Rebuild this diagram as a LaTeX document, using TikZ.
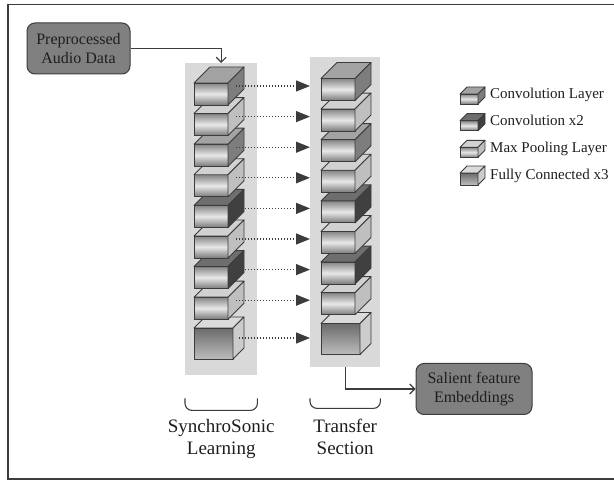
\documentclass[tikz,border=0pt]{standalone}
\usepackage{fontspec}
\setmainfont{Liberation Serif}
\usetikzlibrary{arrows.meta,positioning,calc}
\definecolor{panelgray}{HTML}{D9D9D9}
\definecolor{boxgray}{HTML}{808080}
\definecolor{edgegray}{HTML}{3C3C3C}
\definecolor{inkgray}{HTML}{1E1E1E}
\definecolor{frontdark}{HTML}{858585}
\definecolor{frontlight}{HTML}{E8E8E8}
\tikzset{
%Define standard arrow tip
    >={Straight Barb[length=5pt,width=10pt]},
%Define style for the grey panels
    panel/.style={
           rectangle,
           fill=panelgray,
           inner sep=0pt},
%Define style for the rounded boxes
    databox/.style={
           rectangle,
           rounded corners=8pt,
           draw=edgegray, line width=1pt,
           fill=boxgray,
           minimum height=51pt,
           align=center,
           text=inkgray,
           font=\fontsize{16}{19}\selectfont},
%Faces of the layer blocks
    face/.style={
           draw=edgegray,
           line width=0.9pt,
           line join=round},
    front/.style={
           face,
           rectangle,
           inner sep=0pt, outer sep=0pt,
           top color=frontdark,
           bottom color=frontdark!92!black,
           middle color=frontlight},
    convfront/.style={front},
    dconvfront/.style={front},
    poolfront/.style={front},
    fcfront/.style={
           face,
           rectangle,
           inner sep=0pt, outer sep=0pt,
           top color=black!58,
           bottom color=black!26},
    convtop/.style={face, fill=black!36},
    convside/.style={face, fill=black!51},
    dconvtop/.style={face, fill=black!57},
    dconvside/.style={face, fill=black!75},
    pooltop/.style={face, fill=black!18},
    poolside/.style={face, fill=black!25},
    fctop/.style={face, fill=black!14},
    fcside/.style={face, fill=black!20},
%Define arrow styles
    link/.style={
           ->,
           line width=1.1pt,
           draw=edgegray},
    flow/.style={
           -{Triangle[length=14pt,width=11pt]},
           line width=1.2pt,
           dash pattern=on 1.2pt off 1.8pt,
           draw=edgegray},
    brace/.style={
           line width=1.1pt,
           draw=edgegray,
           rounded corners=7pt},
    seclabel/.style={
           inner sep=0pt,
           align=center,
           text=inkgray,
           font=\fontsize{19}{22}\selectfont},
    legtext/.style={
           inner sep=0pt,
           text=inkgray,
           font=\fontsize{15}{18}\selectfont}
}
\begin{document}
\begin{tikzpicture}[x=1pt,y=-1pt]
 \useasboundingbox (0,0) rectangle (614,481);
 \draw[line width=1.3pt, draw=edgegray] (620,4.5) -| (8,479) -- (620,479);

 % panels behind the two stacks
 \node[panel, minimum width=72pt, minimum height=312pt, anchor=north west] (lpanel) at (185,63) {};
 \node[panel, minimum width=70pt, minimum height=310pt, anchor=north west] (rpanel) at (310,57) {};

 % layer blocks, drawn from the bottom up
 \foreach \col/\x/\s in {l/194/0, r/321/-4.5}{
   \foreach \n/\kind/\y/\w/\h/\d in {9/fc/328/39/31/11, 8/pool/297.2/34/22/16,
       7/dconv/266.6/34/22/16, 6/pool/236/34/22/16, 5/dconv/205.4/34/22/16,
       4/pool/174.8/34/22/16, 3/conv/144.2/34/22/16, 2/pool/113.6/34/22/16,
       1/conv/83/34/22/16}{
     \node[\kind front, minimum width=\w pt, minimum height=\h pt, anchor=north west] (\col\n) at ({\x},{\y+\s}) {};
     \draw[\kind top] (\col\n.north west) -- ++(\d,-\d) -- ++(\w,0) -- (\col\n.north east) -- cycle;
     \draw[\kind side] (\col\n.north east) -- ++(\d,-\d) -- ++(0,\h) -- (\col\n.south east) -- cycle;
     \coordinate (\col side\n) at ($(\col\n.east)+({\d/2},{-\d/2})$);
   }
 }
 \foreach \n in {1,...,9}
   \draw[flow] (lside\n) -- (lside\n -| rpanel.west);

 % legend
 \foreach \kind/\txt/\h [count=\j] in {conv/Convolution Layer/10, dconv/Convolution x2/10,
     pool/Max Pooling Layer/10, fc/Fully Connected x3/12}{
   \node[\kind front, minimum width=18pt, minimum height=\h pt] (leg\j) at (469,{99+26.67*(\j-1)}) {};
   \draw[\kind top] (leg\j.north west) -- ++(7,-7) -- ++(18,0) -- (leg\j.north east) -- cycle;
   \draw[\kind side] (leg\j.north east) -- ++(7,-7) -- ++(0,\h) -- (leg\j.south east) -- cycle;
   \node[legtext, base right=12pt of leg\j] (legtxt\j) {\txt};
 }

 % input and output boxes
 \node[databox, minimum width=103pt] (pre) at (78.5,48.5) {Preprocessed\\Audio Data};
 \node[databox, minimum width=116pt] (sal) at (474,389) {Salient feature\\Embeddings};
 \draw[link] (pre.east) -| (lpanel.north);
 \draw[link] (rpanel.south) |- (sal.west);

 % braces and section names
 \coordinate (lbr) at ([yshift=-35pt]lpanel.south);
 \coordinate (rbr) at ([yshift=-41pt]rpanel.south);
 \draw[brace] ([yshift=-23pt]lpanel.south west) |- (lbr) -| ([yshift=-23pt]lpanel.south east);
 \draw[brace] ([yshift=-31pt]rpanel.south west) |- (rbr) -| ([yshift=-31pt]rpanel.south east);
 \node[seclabel, below=9pt of lbr] (synlab) {SynchroSonic\\Learning};
 \node[seclabel, below=11pt of rbr] (trlab) {Transfer\\Section};
\end{tikzpicture}
\end{document}
